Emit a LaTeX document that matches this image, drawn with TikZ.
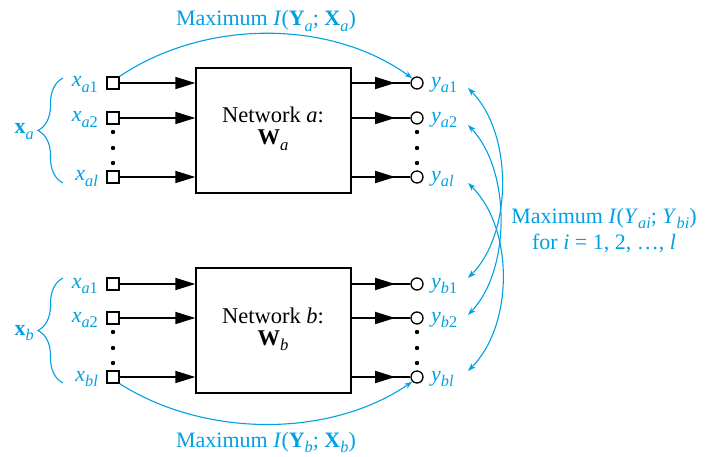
\documentclass[tikz,border=0pt]{standalone}
\usepackage{fontspec}
\usepackage{graphicx}
\setmainfont{Liberation Serif}
\usetikzlibrary{arrows.meta,decorations.pathreplacing,decorations.markings}
\definecolor{cy}{RGB}{0,160,227}
\newcommand{\ita}[1]{\textit{#1}}
\newcommand{\sbs}[1]{\raisebox{-0.24em}{\scalebox{0.74}{#1}}}
\begin{document}
\begin{tikzpicture}[x=1pt,y=-1pt,
  insq/.style={draw, line width=1.3pt, rectangle, minimum size=12pt, inner sep=0pt, fill=white},
  outc/.style={draw, line width=1.3pt, circle, minimum size=12pt, inner sep=0pt, fill=white},
  netbox/.style={draw, line width=1.4pt, rectangle, minimum width=155pt, minimum height=125pt, inner sep=0pt},
  sig/.style={line width=1.8pt, -{Triangle[length=20pt,width=12pt]}},
  osig/.style={line width=1.8pt, decoration={markings, mark=at position 0.74 with {\arrow{Triangle[length=20pt,width=12pt]}}}, postaction={decorate}},
  lbl/.style={text=cy, inner sep=0pt, font=\fontsize{22}{25}\selectfont},
  netlbl/.style={inner sep=0pt, font=\fontsize{22.5}{26}\selectfont},
  cyline/.style={draw=cy, line width=1.1pt},
  cyarr/.style={cyline, -{Stealth[length=8pt,width=5.5pt]}},
  cyboth/.style={cyline, {Stealth[length=8pt,width=5.5pt]}-{Stealth[length=8pt,width=5.5pt]}},
  dotn/.style={circle, fill=black, minimum size=4.4pt, inner sep=0pt}
]
\useasboundingbox (0,0) rectangle (709,457);

% boxes
\node[netbox] (neta) at (273.5,130.5) {};
\node[netbox] (netb) at (273.5,330.5) {};
\node[netlbl, anchor=base] (ta1) at (273,123) {Network \ita{a}:};
\node[netlbl, anchor=base] (ta2) at (273,145) {\textbf{W}\sbs{\ita{a}}};
\node[netlbl, anchor=base] (tb1) at (273,323) {Network \ita{b}:};
\node[netlbl, anchor=base] (tb2) at (273,345) {\textbf{W}\sbs{\ita{b}}};

% inputs a
\node[insq] (xa1) at (113,83) {};
\node[insq] (xa2) at (113,118) {};
\node[insq] (xal) at (113,177) {};
% inputs b
\node[insq] (xb1) at (113,284) {};
\node[insq] (xb2) at (113,318) {};
\node[insq] (xbl) at (113,377) {};
% outputs a
\node[outc] (ya1) at (417,83) {};
\node[outc] (ya2) at (417,118) {};
\node[outc] (yal) at (417,177) {};
% outputs b
\node[outc] (yb1) at (417,284) {};
\node[outc] (yb2) at (417,318) {};
\node[outc] (ybl) at (417,377) {};

% dots
\foreach \xx/\nm in {113/i, 417/o}{
  \foreach \yy/\k in {132/1,148/2,163/3}{
    \node[dotn] (d\nm a\k) at (\xx,\yy) {};
  }
  \foreach \yy/\k in {332/1,348/2,363/3}{
    \node[dotn] (d\nm b\k) at (\xx,\yy) {};
  }
}

% input arrows
\foreach \n in {xa1,xa2,xal}{ \draw[sig] (\n.east) -- (\n.east -| neta.west); }
\foreach \n in {xb1,xb2,xbl}{ \draw[sig] (\n.east) -- (\n.east -| netb.west); }
% output arrows
\foreach \n in {ya1,ya2,yal}{ \draw[osig] (\n.west -| neta.east) -- (\n.west); }
\foreach \n in {yb1,yb2,ybl}{ \draw[osig] (\n.west -| netb.east) -- (\n.west); }

% input labels
\node[lbl, anchor=base east] (lxa1) at (98,87) {\ita{x}\sbs{\ita{a}1}};
\node[lbl, anchor=base east] (lxa2) at (98,122) {\ita{x}\sbs{\ita{a}2}};
\node[lbl, anchor=base east] (lxal) at (98,181) {\ita{x}\sbs{\ita{al}}};
\node[lbl, anchor=base east] (lxb1) at (98,288) {\ita{x}\sbs{\ita{a}1}};
\node[lbl, anchor=base east] (lxb2) at (98,322) {\ita{x}\sbs{\ita{a}2}};
\node[lbl, anchor=base east] (lxbl) at (98,381) {\ita{x}\sbs{\ita{bl}}};
% output labels
\node[lbl, anchor=base west] (lya1) at (431,87.5) {\ita{y}\sbs{\ita{a}1}};
\node[lbl, anchor=base west] (lya2) at (431,122.5) {\ita{y}\sbs{\ita{a}2}};
\node[lbl, anchor=base west] (lyal) at (431,181.5) {\ita{y}\sbs{\ita{al}}};
\node[lbl, anchor=base west] (lyb1) at (431,288.5) {\ita{y}\sbs{\ita{b}1}};
\node[lbl, anchor=base west] (lyb2) at (431,322.5) {\ita{y}\sbs{\ita{b}2}};
\node[lbl, anchor=base west] (lybl) at (431,381.5) {\ita{y}\sbs{\ita{bl}}};

% braces and vector labels
\draw[cyline, decorate, decoration={brace, amplitude=25pt}] (63,183) -- (63,78);
\draw[cyline, decorate, decoration={brace, amplitude=25pt}] (63,383) -- (63,278);
\node[lbl, anchor=base east] (vxa) at (34,134) {\textbf{x}\sbs{\ita{a}}};
\node[lbl, anchor=base east] (vxb) at (34,335) {\textbf{x}\sbs{\ita{b}}};

% top and bottom mutual information
\draw[cyarr] (xa1.north east) .. controls (205,19) and (330,19) .. (ya1.north west);
\draw[cyarr] (xbl.south east) .. controls (205,438) and (330,438) .. (ybl.south west);
\node[lbl, anchor=base] (ltop) at (266,26) {Maximum \ita{I}(\textbf{Y}\sbs{\ita{a}}; \textbf{X}\sbs{\ita{a}})};
\node[lbl, anchor=base] (lbot) at (266,447.5) {Maximum \ita{I}(\textbf{Y}\sbs{\ita{b}}; \textbf{X}\sbs{\ita{b}})};

% right side curves
\coordinate (ra1) at (468,88);
\coordinate (ra2) at (468,125);
\coordinate (ral) at (468,183);
\coordinate (rb1) at (468,278);
\coordinate (rb2) at (468,315);
\coordinate (rbl) at (468,371);
\draw[cyboth] (ra1) .. controls (513,133) and (513,233) .. (rb1);
\draw[cyboth] (ra2) .. controls (511,170) and (511,270) .. (rb2);
\draw[cyboth] (ral) .. controls (514,228) and (514,325) .. (rbl);
\node[lbl, anchor=base] (lr1) at (604,223) {Maximum \ita{I}(\ita{Y}\sbs{\ita{ai}}; \ita{Y}\sbs{\ita{bi}})};
\node[lbl, anchor=base] (lr2) at (604,249) {for \ita{i} = 1, 2, …, \ita{l}};
\end{tikzpicture}
\end{document}
